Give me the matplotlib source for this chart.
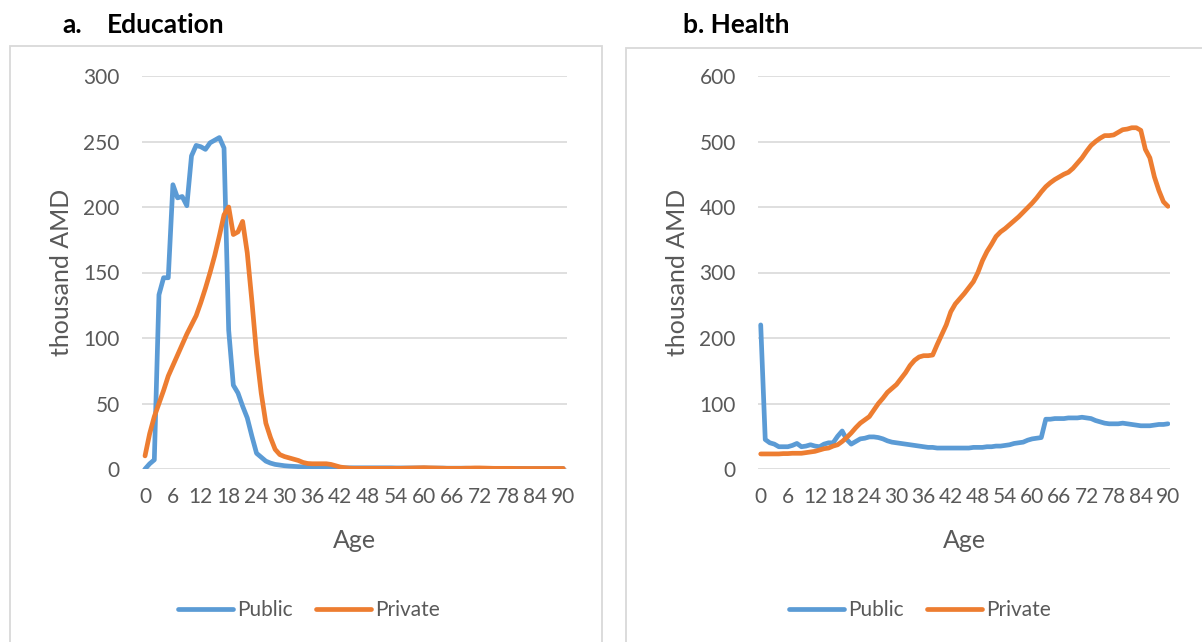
import matplotlib
matplotlib.use("Agg")
import matplotlib.pyplot as plt
from matplotlib.patches import Rectangle
import numpy as np

plt.rcParams['font.family'] = ['Lato', 'DejaVu Sans']

# Per-capita spending by age, thousand AMD
ages = list(range(0, 91))

edu_public = [0, 4, 7, 133, 146, 146, 217, 207, 208, 201,
              239, 247, 246, 244, 249, 251, 253, 245, 106, 64,
              58, 48, 39, 25, 12, 9, 6, 4.5, 3.5, 3,
              2.5, 2.2, 2, 1.8, 1.6, 1.5, 1.3, 1.2, 1.1, 1.0,
              1.0, 0.9, 0.9, 0.9, 0.9, 0.9, 0.9, 0.9, 0.9, 0.9,
              0.9, 0.9, 0.9, 0.9, 0.8, 0.8, 0.8, 0.8, 0.8, 0.8,
              0.8, 0.7, 0.7, 0.7, 0.7, 0.6, 0.6, 0.6, 0.6, 0.6,
              0.5, 0.5, 0.5, 0.5, 0.5, 0.5, 0.4, 0.4, 0.4, 0.4,
              0.4, 0.4, 0.3, 0.3, 0.3, 0.3, 0.3, 0.3, 0.3, 0.3,
              0.3]

edu_private = [10, 27, 40, 50, 60, 71, 79, 87, 95, 103,
               110, 117, 127, 138, 150, 163, 178, 194, 200, 179,
               181, 189, 165, 128, 88, 58, 35, 24, 15, 11,
               9.5, 8.5, 7.5, 6.5, 5, 4.2, 4, 4, 4, 4,
               3.5, 2.5, 1.5, 1, 0.6, 0.5, 0.5, 0.5, 0.5, 0.5,
               0.5, 0.5, 0.5, 0.5, 0.5, 0.5, 0.6, 0.7, 0.8, 0.9,
               1.0, 0.9, 0.8, 0.7, 0.6, 0.5, 0.5, 0.5, 0.5, 0.6,
               0.7, 0.8, 0.8, 0.7, 0.6, 0.5, 0.5, 0.5, 0.5, 0.5,
               0.4, 0.4, 0.4, 0.4, 0.4, 0.4, 0.4, 0.4, 0.4, 0.4,
               0.4]

health_public = [220, 45, 40, 38, 34, 34, 34, 36, 39, 34,
                 35, 37, 35, 34, 38, 40, 40, 50, 58, 45,
                 38, 42, 46, 47, 49, 49, 48, 46, 43, 41,
                 40, 39, 38, 37, 36, 35, 34, 33, 33, 32,
                 32, 32, 32, 32, 32, 32, 32, 33, 33, 33,
                 34, 34, 35, 35, 36, 37, 39, 40, 41, 44,
                 46, 47, 48, 76, 76, 77, 77, 77, 78, 78,
                 78, 79, 78, 77, 74, 72, 70, 69, 69, 69,
                 70, 69, 68, 67, 66, 66, 66, 67, 68, 68,
                 69]

health_private = [23, 23, 23, 23, 23, 23.5, 23.5, 24, 24, 24,
                  25, 26, 27, 29, 31, 32, 35, 37, 42, 48,
                  55, 63, 70, 75, 80, 90, 100, 108, 117, 123,
                  129, 138, 147, 158, 166, 171, 173, 173, 174, 190,
                  205, 220, 240, 252, 260, 268, 277, 286, 300, 318,
                  332, 343, 355, 362, 367, 373, 379, 385, 392, 399,
                  406, 414, 423, 431, 437, 442, 446, 450, 453, 459,
                  467, 475, 485, 494, 500, 505, 509, 509, 510, 514,
                  518, 519, 521, 521, 517, 488, 475, 446, 425, 408,
                  401]

x_ticks = list(range(0, 91, 6))
edu_yticks = [0, 50, 100, 150, 200, 250, 300]
health_yticks = [0, 100, 200, 300, 400, 500, 600]

BLUE = '#5B9BD5'
ORANGE = '#ED7D31'
GRID = '#D9D9D9'
TEXT = '#595959'

W, H = 1202, 642
fig = plt.figure(figsize=(W / 100, H / 100), dpi=100)
fig.patch.set_facecolor('white')


def fx(px):
    return px / W


def fy(py):
    return (H - py) / H


# Chart-area borders
fig.add_artist(Rectangle((fx(10), fy(700)), fx(602) - fx(10), fy(46) - fy(700),
                         transform=fig.transFigure, fill=False,
                         edgecolor=GRID, linewidth=1.3))
fig.add_artist(Rectangle((fx(626), fy(700)), fx(1230) - fx(626), fy(48) - fy(700),
                         transform=fig.transFigure, fill=False,
                         edgecolor=GRID, linewidth=1.3))


def panel(rect, public, private, yticks, xlim, legend_x):
    ax = fig.add_axes(rect)
    l1, = ax.plot(ages, public, color=BLUE, lw=3.4, solid_joinstyle='round',
                  solid_capstyle='round', label='Public', zorder=3)
    l2, = ax.plot(ages, private, color=ORANGE, lw=3.4, solid_joinstyle='round',
                  solid_capstyle='round', label='Private', zorder=3)
    ax.set_xlim(*xlim)
    ax.set_ylim(yticks[0], yticks[-1])
    ax.set_yticks(yticks)
    ax.set_xticks(x_ticks)
    ax.grid(axis='y', color=GRID, linewidth=1.2)
    ax.set_axisbelow(True)
    for s in ax.spines.values():
        s.set_visible(False)
    ax.tick_params(axis='both', length=0, labelsize=15, labelcolor=TEXT)
    ax.tick_params(axis='y', pad=16)
    ax.tick_params(axis='x', pad=13)
    ax.set_xlabel('Age', fontsize=18, color=TEXT)
    ax.set_ylabel('thousand AMD', fontsize=18, color=TEXT)
    ax.xaxis.set_label_coords(0.5, -0.152)
    fig.legend(handles=[l1, l2], loc='center',
               bbox_to_anchor=(fx(legend_x), fy(610)), ncol=2, frameon=False,
               fontsize=15, labelcolor=TEXT, handlelength=2.65,
               handletextpad=0.2, columnspacing=1.1)
    return ax


ax_a = panel([fx(142), fy(469), fx(567) - fx(142), fy(76) - fy(469)],
             edu_public, edu_private, edu_yticks, (-0.65, 90.8), 309)
ax_a.yaxis.set_label_coords(-0.163, 0.5)

ax_b = panel([fx(758), fy(469), fx(1170) - fx(758), fy(76) - fy(469)],
             health_public, health_private, health_yticks, (-0.6, 90.45), 920)
ax_b.yaxis.set_label_coords(-0.168, 0.5)

# Panel titles
fig.text(fx(62), fy(33), 'a.', fontsize=19, fontweight='bold', color='black',
         ha='left', va='baseline')
fig.text(fx(107), fy(33), 'Education', fontsize=19, fontweight='bold',
         color='black', ha='left', va='baseline')
fig.text(fx(683), fy(33), 'b. Health', fontsize=19, fontweight='bold',
         color='black', ha='left', va='baseline')

fig.savefig('out.png', dpi=100, facecolor='white')
